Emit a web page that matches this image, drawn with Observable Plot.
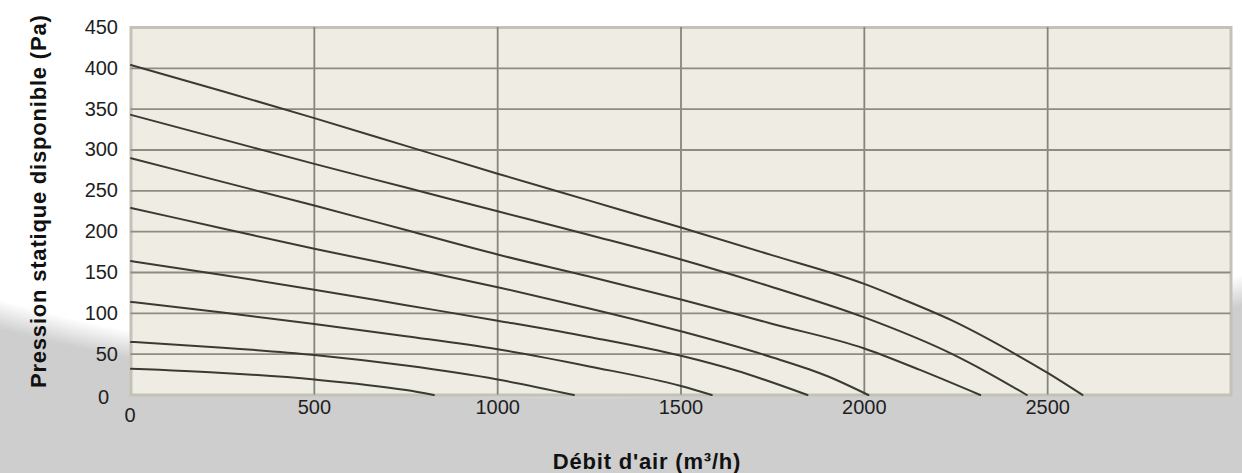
<!DOCTYPE html>
<html>
<head>
<meta charset="utf-8">
<script src="https://cdn.jsdelivr.net/npm/d3@7"></script>
<script src="https://cdn.jsdelivr.net/npm/@observablehq/plot@0.6"></script>
<style>
  html, body { margin: 0; padding: 0; background: #ffffff; }
  #chart { width: 1242px; height: 473px; }
  .axis-title text { letter-spacing: 0.8px; }
</style>
</head>
<body>
<div id="chart"></div>
<script>
// Débit d'air (m³/h) vs pression statique disponible (Pa) — one array of [flow, pressure] per curve
const curveA = [[0,404],[250,372],[500,339],[750,305],[1000,271],[1250,238],[1500,205],[1750,171],[2000,136],[2100,118],[2240,91],[2420,48],[2500,27],[2595,0]];
const curveB = [[0,343],[250,313],[500,283],[750,254],[1000,225],[1250,196],[1500,166],[1750,132],[2000,95],[2240,50],[2330,29],[2443,0]];
const curveC = [[0,290],[250,261],[500,232],[750,202],[1000,172],[1250,145],[1500,117],[1750,87],[2000,57],[2150,31],[2316,0]];
const curveD = [[0,229],[250,204],[500,179],[750,156],[1000,132],[1250,106],[1500,78],[1750,46],[1900,23],[2011,0]];
const curveE = [[0,164],[250,147],[500,129],[750,110],[1000,91],[1250,71],[1500,48],[1650,30],[1845,0]];
const curveF = [[0,114],[250,101],[500,87],[750,72],[1000,56],[1250,35],[1500,11],[1584,0]];
const curveG = [[0,65],[250,58],[500,49],[750,36],[1000,19],[1208,0]];
const curveH = [[0,32],[250,27],[500,19],[750,6],[826,0]];
const curves = [curveA, curveB, curveC, curveD, curveE, curveF, curveG, curveH];

const flowTicks = [500, 1000, 1500, 2000, 2500];
const flowZeroTick = [0];
const pressureTicks = [50, 100, 150, 200, 250, 300, 350, 400, 450];
const pressureZeroTick = [0];
const gridFlow = [500, 1000, 1500, 2000, 2500];
const gridPressure = [50, 100, 150, 200, 250, 300, 350, 400];
const xTitle = "Débit d'air (m³/h)";
const yTitle = "Pression statique disponible (Pa)";

const rows = curves.flatMap((c, i) => c.map(([flow, pressure]) => ({curve: i, flow, pressure})));
const plain = (d) => String(d);

const chart = Plot.plot({
  width: 1242,
  height: 473,
  marginLeft: 130.5,
  marginRight: 11.5,
  marginTop: 27,
  marginBottom: 78.5,
  style: {
    fontFamily: "'Liberation Sans', Arial, sans-serif",
    fontSize: "20px",
    color: "#1e1e1e",
    background: "radial-gradient(ellipse 1200px 569px at 580px -169px, #ffffff 95.5%, #cecece 100%)"
  },
  x: {domain: [0, 3000], axis: null},
  y: {domain: [0, 450], axis: null},
  marks: [
    Plot.frame({fill: "#efede3", stroke: "#c4c2b8", strokeWidth: 3}),
    Plot.gridX(gridFlow, {stroke: "#85857b", strokeOpacity: 1, strokeWidth: 1.8}),
    Plot.gridY(gridPressure, {stroke: "#8c8c82", strokeOpacity: 1, strokeWidth: 1.8}),
    Plot.line(rows, {x: "flow", y: "pressure", z: "curve", curve: "monotone-x", stroke: "#3a3a34", strokeWidth: 2}),
    Plot.axisY(pressureTicks, {tickSize: 0, tickPadding: 13, fontSize: 20, tickFormat: plain, label: null}),
    Plot.axisY(pressureZeroTick, {tickSize: 0, tickPadding: 22, dy: 3, fontSize: 20, tickFormat: plain, label: null}),
    Plot.axisX(flowTicks, {tickSize: 0, tickPadding: 5, fontSize: 20, tickFormat: plain, label: null}),
    Plot.axisX(flowZeroTick, {tickSize: 0, tickPadding: 13, dx: -1, fontSize: 20, tickFormat: plain, label: null}),
    Plot.text([xTitle], {frameAnchor: "bottom", textAnchor: "middle", lineAnchor: "middle", dx: -34, dy: 66.5, fontSize: 22, fontWeight: "bold", fill: "#111", className: "axis-title"}),
    Plot.text([yTitle], {frameAnchor: "left", textAnchor: "middle", lineAnchor: "middle", rotate: -90, dx: -92.5, dy: -10, fontSize: 22, fontWeight: "bold", fill: "#111", className: "axis-title"})
  ]
});
document.getElementById("chart").appendChild(chart);
</script>
</body>
</html>
